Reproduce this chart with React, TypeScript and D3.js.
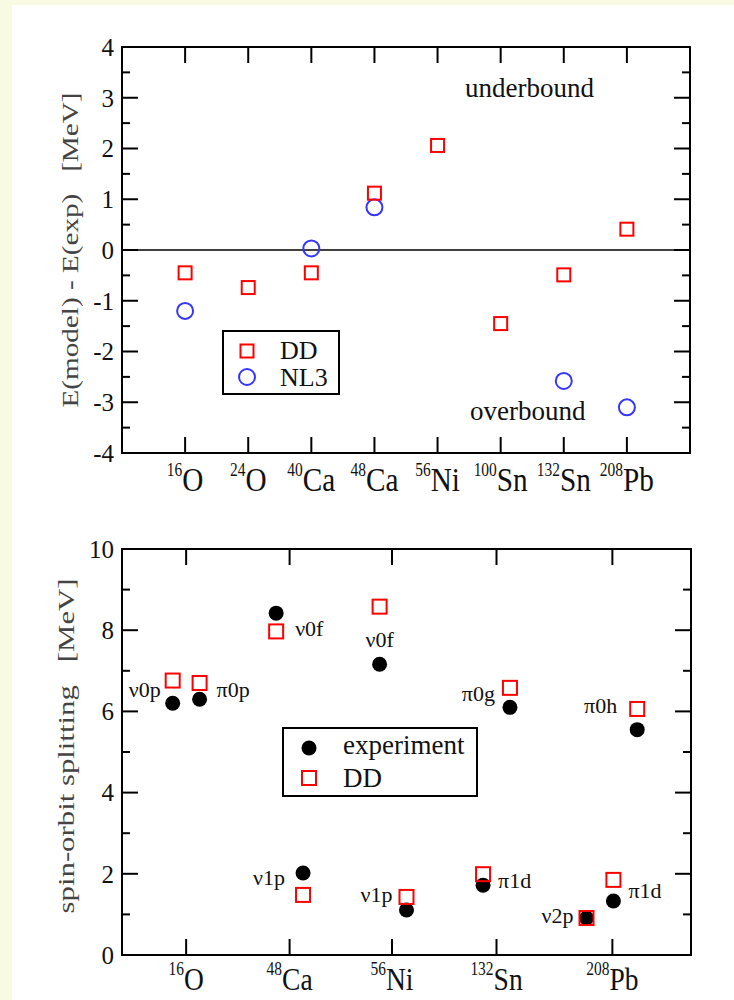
import React from 'react';
import * as d3 from 'd3';

// ---- upper panel: binding energy deviation ----
const topMass = ['16', '24', '40', '48', '56', '100', '132', '208'];
const topElem = ['O', 'O', 'Ca', 'Ca', 'Ni', 'Sn', 'Sn', 'Pb'];
const topDD = [-0.45, -0.74, -0.45, 1.12, 2.06, -1.45, -0.49, 0.41];
const topNL3 = [-1.2, null, 0.03, 0.84, null, null, -2.58, -3.1];
const topYTicks = [-4, -3, -2, -1, 0, 1, 2, 3, 4];

// ---- lower panel: spin-orbit splitting ----
const botMass = ['16', '48', '56', '132', '208'];
const botElem = ['O', 'Ca', 'Ni', 'Sn', 'Pb'];
const botTickPos = [0.62, 1.62, 2.61, 3.62, 4.74];
const levelX = [0.49, 0.75, 1.49, 1.75, 2.49, 2.75, 3.49, 3.75, 4.49, 4.75, 4.98];
const levelName = ['ν0p', 'π0p', 'ν0f', 'ν1p', 'ν0f', 'ν1p', 'π1d', 'π0g', 'ν2p', 'π1d', 'π0h'];
const experiment = [6.2, 6.3, 8.42, 2.02, 7.16, 1.11, 1.72, 6.1, 0.91, 1.33, 5.55];
const ddSplit = [6.76, 6.7, 7.97, 1.48, 8.58, 1.43, 1.99, 6.58, 0.91, 1.85, 6.06];
const botYTicks = [0, 2, 4, 6, 8, 10];

// where each level label sits relative to its experimental point
const labelPos = [
  { a: 'end', dx: -12, dy: -6 },
  { a: 'start', dx: 17, dy: -2 },
  { a: 'start', dx: 19, dy: 23 },
  { a: 'end', dx: -18, dy: 12 },
  { a: 'middle', dx: 0, dy: -17 },
  { a: 'end', dx: -14, dy: -8 },
  { a: 'start', dx: 15, dy: 3 },
  { a: 'end', dx: -15, dy: -6 },
  { a: 'end', dx: -13, dy: 5 },
  { a: 'start', dx: 15, dy: -3 },
  { a: 'end', dx: -20, dy: -17 },
];

const FONT = 'Liberation Serif, Times New Roman, serif';
const RED = '#ff0000';
const BLUE = '#3535ff';

const Frame = ({ x, y, xTicks, yMajor, yMinor }) => {
  const [x0, x1] = x.range();
  const [y0, y1] = y.range();
  const M = 16;
  const m = 8;
  return (
    <g stroke="#000" strokeWidth={2} fill="none">
      <rect x={x0} y={y1} width={x1 - x0} height={y0 - y1} />
      {xTicks.map((t, i) => (
        <g key={'xt' + i}>
          <line x1={x(t)} x2={x(t)} y1={y0} y2={y0 - M} />
          <line x1={x(t)} x2={x(t)} y1={y1} y2={y1 + M} />
        </g>
      ))}
      {yMajor.map((t) => (
        <g key={'ym' + t}>
          <line x1={x0} x2={x0 + M} y1={y(t)} y2={y(t)} />
          <line x1={x1} x2={x1 - M} y1={y(t)} y2={y(t)} />
        </g>
      ))}
      {yMinor.map((t) => (
        <g key={'yn' + t}>
          <line x1={x0} x2={x0 + m} y1={y(t)} y2={y(t)} />
          <line x1={x1} x2={x1 - m} y1={y(t)} y2={y(t)} />
        </g>
      ))}
      <g stroke="none" fill="#111" fontFamily={FONT} fontSize={25} textAnchor="end">
        {yMajor.map((t) => (
          <text key={'yl' + t} x={x0 - 8} y={y(t)} dy="0.35em">
            {String(t)}
          </text>
        ))}
      </g>
    </g>
  );
};

const Nucleus = ({ x, y, mass, el, size = 34 }) => (
  <g transform={`translate(${x},${y}) scale(0.86,1)`}>
    <text textAnchor="middle" fontFamily={FONT} fill="#111">
      <tspan fontSize={18} dy={-15}>{mass}</tspan>
      <tspan fontSize={size} dy={15}>{el}</tspan>
    </text>
  </g>
);

const Square = ({ cx, cy, s = 13 }) => (
  <rect x={cx - s / 2} y={cy - s / 2} width={s} height={s} fill="none" stroke={RED} strokeWidth={2} />
);

export default function App() {
  const xTop = d3.scaleLinear().domain([0, 9]).range([122, 690]);
  const yTop = d3.scaleLinear().domain([-4, 4]).range([453, 47]);
  const topPos = topMass.map((_, i) => i + 1);

  const xBot = d3.scaleLinear().domain([0, 5.5]).range([122, 691]);
  const yBot = d3.scaleLinear().domain([0, 10]).range([955, 549]);

  const topMinor = d3.range(-3.5, 4, 1);
  const botMinor = d3.range(1, 10, 2);

  return (
    <svg
      width={734}
      height={1000}
      style={{ position: 'absolute', left: 0, top: 0, display: 'block' }}
    >
      <rect width={734} height={1000} fill="#f8fbe2" />
      <rect x={12} y={5} width={722} height={995} fill="#fff" />

      {/* upper panel */}
      <Frame x={xTop} y={yTop} xTicks={topPos} yMajor={topYTicks} yMinor={topMinor} />
      <line x1={xTop.range()[0]} x2={xTop.range()[1]} y1={yTop(0)} y2={yTop(0)} stroke="#000" strokeWidth={1.5} />
      {topNL3.map((v, i) =>
        v == null ? null : (
          <circle key={'n' + i} cx={xTop(topPos[i])} cy={yTop(v)} r={8} fill="none" stroke={BLUE} strokeWidth={2} />
        )
      )}
      {topDD.map((v, i) => (
        <Square key={'d' + i} cx={xTop(topPos[i])} cy={yTop(v)} />
      ))}
      {topMass.map((m, i) => (
        <Nucleus key={'tn' + i} x={xTop(topPos[i])} y={491} mass={m} el={topElem[i]} />
      ))}
      <text x={465} y={97} fontFamily={FONT} fontSize={27} fill="#111">underbound</text>
      <text x={470} y={420} fontFamily={FONT} fontSize={27} fill="#111">overbound</text>
      <text
        transform={`translate(78,${yTop(0)}) rotate(-90)`}
        textAnchor="middle"
        fontFamily={FONT}
        fontSize={24}
        fill="#444"
        textLength={315}
        lengthAdjust="spacingAndGlyphs"
        style={{ whiteSpace: 'pre' }}
      >
        E(model) - E(exp)   [MeV]
      </text>
      <g>
        <rect x={223} y={331} width={116} height={63} fill="#fff" stroke="#000" strokeWidth={2} />
        <Square cx={247} cy={351} />
        <circle cx={247} cy={377} r={8} fill="none" stroke={BLUE} strokeWidth={2} />
        <text x={280} y={359} fontFamily={FONT} fontSize={26} fill="#111">DD</text>
        <text x={280} y={386} fontFamily={FONT} fontSize={26} fill="#111">NL3</text>
      </g>

      {/* lower panel */}
      <Frame x={xBot} y={yBot} xTicks={botTickPos} yMajor={botYTicks} yMinor={botMinor} />
      {experiment.map((v, i) => (
        <circle key={'e' + i} cx={xBot(levelX[i])} cy={yBot(v)} r={7.5} fill="#000" />
      ))}
      {ddSplit.map((v, i) => (
        <Square key={'s' + i} cx={xBot(levelX[i])} cy={yBot(v)} s={14} />
      ))}
      {levelName.map((n, i) => (
        <text
          key={'l' + i}
          x={xBot(levelX[i]) + labelPos[i].dx}
          y={yBot(experiment[i]) + labelPos[i].dy}
          textAnchor={labelPos[i].a}
          fontFamily={FONT}
          fontSize={22}
          fill="#111"
        >
          {n}
        </text>
      ))}
      {botMass.map((m, i) => (
        <Nucleus key={'bn' + i} x={xBot(botTickPos[i])} y={990} mass={m} el={botElem[i]} size={32} />
      ))}
      <text
        transform={`translate(74,${yBot(5.15)}) rotate(-90)`}
        textAnchor="middle"
        fontFamily={FONT}
        fontSize={23}
        fill="#444"
        textLength={335}
        lengthAdjust="spacingAndGlyphs"
        style={{ whiteSpace: 'pre' }}
      >
        spin-orbit splitting   [MeV]
      </text>
      <g>
        <rect x={283} y={728} width={194} height={68} fill="#fff" stroke="#000" strokeWidth={2} />
        <circle cx={309} cy={748} r={7.5} fill="#000" />
        <Square cx={309} cy={778} s={14} />
        <text x={343} y={754} fontFamily={FONT} fontSize={27} fill="#111">experiment</text>
        <text x={343} y={787} fontFamily={FONT} fontSize={27} fill="#111">DD</text>
      </g>
    </svg>
  );
}
